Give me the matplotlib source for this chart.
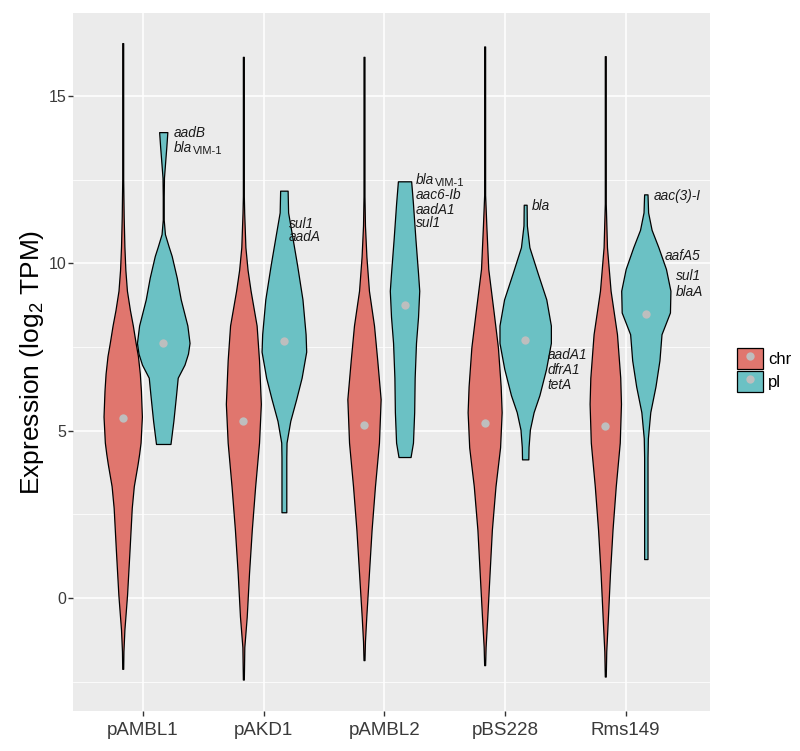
import numpy as np
import matplotlib
matplotlib.use('Agg')
import matplotlib.pyplot as plt
from matplotlib.patches import Patch
from matplotlib.lines import Line2D
from matplotlib.legend_handler import HandlerTuple

plt.rcParams['font.family'] = ['Liberation Sans', 'DejaVu Sans']
plt.rcParams['mathtext.fontset'] = 'custom'
plt.rcParams['mathtext.rm'] = 'Liberation Sans'
plt.rcParams['mathtext.it'] = 'Liberation Sans:italic'

plasmids = ['pAMBL1', 'pAKD1', 'pAMBL2', 'pBS228', 'Rms149']

# violin outlines: y levels (log2 TPM) and half widths (x units)
chr_y = [
    [16.58, 12.5, 11.4, 10.5, 9.8, 9.18, 8.6, 8.14, 7.6, 7.23, 6.7, 6.19, 5.42, 4.64, 4.3, 3.99, 3.34, 2.69, 1.39, 0.09, -0.95, -1.6, -2.12],
    [16.17, 12.0, 11.5, 10.48, 9.8, 9.18, 8.14, 7.1, 5.8, 4.64, 3.34, 2.04, 0.74, -0.56, -1.47, -2.44],
    [16.17, 12.0, 11.13, 10.2, 9.18, 8.14, 7.1, 5.94, 4.64, 3.34, 2.04, 0.74, -0.56, -1.3, -1.86],
    [16.48, 12.04, 11.13, 9.83, 8.53, 7.49, 6.32, 5.55, 4.5, 3.34, 2.04, 0.74, -0.56, -1.47, -2.01],
    [16.19, 11.78, 10.48, 9.18, 7.88, 6.58, 5.8, 4.64, 3.34, 2.04, 0.74, -0.56, -1.6, -2.35],
]
chr_w = [
    [0.004, 0.004, 0.008, 0.014, 0.022, 0.035, 0.06, 0.084, 0.108, 0.126, 0.142, 0.151, 0.159, 0.148, 0.136, 0.123, 0.092, 0.075, 0.056, 0.036, 0.014, 0.006, 0.004],
    [0.004, 0.004, 0.007, 0.017, 0.035, 0.06, 0.11, 0.13, 0.145, 0.13, 0.098, 0.07, 0.047, 0.028, 0.008, 0.004],
    [0.004, 0.004, 0.008, 0.02, 0.041, 0.083, 0.11, 0.138, 0.124, 0.091, 0.063, 0.041, 0.019, 0.008, 0.004],
    [0.004, 0.004, 0.014, 0.03, 0.075, 0.11, 0.133, 0.141, 0.128, 0.09, 0.06, 0.041, 0.022, 0.008, 0.004],
    [0.004, 0.004, 0.014, 0.044, 0.097, 0.124, 0.13, 0.12, 0.087, 0.06, 0.039, 0.022, 0.008, 0.004],
]
pl_y = [
    [13.92, 13.5, 13.08, 12.56, 12.0, 11.3, 10.87, 10.5, 10.22, 9.57, 8.92, 8.14, 7.62, 7.3, 6.97, 6.58, 6.06, 5.29, 4.6],
    [12.17, 11.52, 10.87, 9.96, 8.92, 7.88, 7.36, 6.58, 5.94, 5.29, 4.64, 4.2, 2.56],
    [12.45, 11.78, 10.74, 9.7, 9.18, 8.4, 7.62, 6.58, 5.55, 4.64, 4.21],
    [11.75, 11.13, 10.48, 9.7, 8.92, 8.14, 7.62, 6.84, 6.06, 5.55, 5.03, 4.51, 4.14],
    [12.06, 11.52, 11.0, 10.48, 9.83, 9.18, 8.53, 7.88, 7.1, 6.32, 5.55, 4.77, 4.2, 1.16],
]
pl_w = [
    [0.034, 0.026, 0.017, 0.006, 0.004, 0.004, 0.014, 0.045, 0.07, 0.112, 0.145, 0.2, 0.218, 0.205, 0.176, 0.12, 0.106, 0.084, 0.06],
    [0.031, 0.035, 0.066, 0.109, 0.154, 0.18, 0.185, 0.147, 0.102, 0.053, 0.022, 0.02, 0.02],
    [0.055, 0.07, 0.09, 0.112, 0.122, 0.112, 0.095, 0.084, 0.08, 0.07, 0.05],
    [0.012, 0.014, 0.035, 0.104, 0.175, 0.213, 0.213, 0.173, 0.118, 0.07, 0.039, 0.028, 0.026],
    [0.014, 0.019, 0.048, 0.104, 0.167, 0.204, 0.2, 0.13, 0.113, 0.08, 0.037, 0.017, 0.014, 0.014],
]
chr_median = [5.38, 5.29, 5.18, 5.22, 5.13]
pl_median = [7.62, 7.68, 8.75, 7.70, 8.48]

# gene labels: (text, subscript, x, y)
genes = [
    ('aadB', '', 1.257, 13.89), ('bla', 'VIM-1', 1.257, 13.45),
    ('sul1', '', 2.21, 11.16), ('aadA', '', 2.21, 10.78),
    ('bla', 'VIM-1', 3.262, 12.48), ('aac6-Ib', '', 3.262, 12.04),
    ('aadA1', '', 3.262, 11.59), ('sul1', '', 3.262, 11.2),
    ('bla', '', 4.223, 11.71),
    ('aadA1', '', 4.355, 7.25), ('dfrA1', '', 4.355, 6.8), ('tetA', '', 4.355, 6.37),
    ('aac(3)-I', '', 5.234, 12.01), ('aafA5', '', 5.327, 10.22),
    ('sul1', '', 5.416, 9.62), ('blaA', '', 5.416, 9.14),
]

red = '#E0766E'
teal = '#6BC1C4'
dot = '#BEBEBE'
offset = 0.168

fig = plt.figure(figsize=(8, 7.51), dpi=100)
ax = fig.add_axes([73 / 800, 1 - 711 / 751, 637 / 800, 698 / 751])
ax.set_facecolor('#EBEBEB')
for s in ax.spines.values():
    s.set_visible(False)

for i in range(len(plasmids)):
    c = i + 1
    for ys, ws, med, col, dx in [(chr_y[i], chr_w[i], chr_median[i], red, -offset),
                                 (pl_y[i], pl_w[i], pl_median[i], teal, offset)]:
        ys = np.array(ys)
        ws = np.array(ws)
        ax.fill_betweenx(ys, c + dx - ws, c + dx + ws, facecolor=col,
                         edgecolor='black', linewidth=0.9, zorder=2)
        ax.plot(c + dx, med, 'o', color=dot, ms=6, mec='none', zorder=3)

for txt, sub, x, y in genes:
    t = ax.text(x, y, txt, style='italic', fontsize=9.8, ha='left', va='center',
                color='#1a1a1a', zorder=4, clip_on=False)
    if sub:
        ax.annotate(sub, xy=(1, 0), xycoords=t, xytext=(0.3, -0.6),
                    textcoords='offset points', fontsize=8, ha='left',
                    va='bottom', color='#1a1a1a')

ax.set_xlim(0.42, 5.70)
ax.set_ylim(-3.38, 17.48)
ax.set_xticks(range(1, len(plasmids) + 1))
ax.set_xticklabels(plasmids)
ax.set_yticks([0, 5, 10, 15])
ax.set_yticks([-2.5, 2.5, 7.5, 12.5], minor=True)
ax.grid(which='major', color='white', linewidth=1.1)
ax.grid(which='minor', axis='y', color='white', linewidth=0.55)
ax.set_axisbelow(True)
ax.tick_params(which='minor', length=0)
ax.tick_params(which='major', length=3.6, width=1, color='#333333',
               labelcolor='#3a3a3a')
ax.tick_params(axis='x', labelsize=13.5, pad=4)
ax.tick_params(axis='y', labelsize=11.5, pad=1)

ax.set_ylabel('Expression (log$_2$ TPM)', fontsize=19)
ax.yaxis.set_label_coords(-0.042, 0.5)

h_chr = (Patch(facecolor=red, edgecolor='black', linewidth=0.9),
         Line2D([], [], marker='o', color=dot, ms=6, mec='none', linestyle='none'))
h_pl = (Patch(facecolor=teal, edgecolor='black', linewidth=0.9),
        Line2D([], [], marker='o', color=dot, ms=6, mec='none', linestyle='none'))
fig.legend([h_chr, h_pl], ['chr', 'pl'], handler_map={tuple: HandlerTuple(ndivide=1)},
           loc='center left', bbox_to_anchor=(0.903, 0.507), frameon=False,
           fontsize=12, handlelength=1.55, handleheight=1.55, labelspacing=0.12,
           handletextpad=0.3)

fig.savefig('out.png', dpi=100)
